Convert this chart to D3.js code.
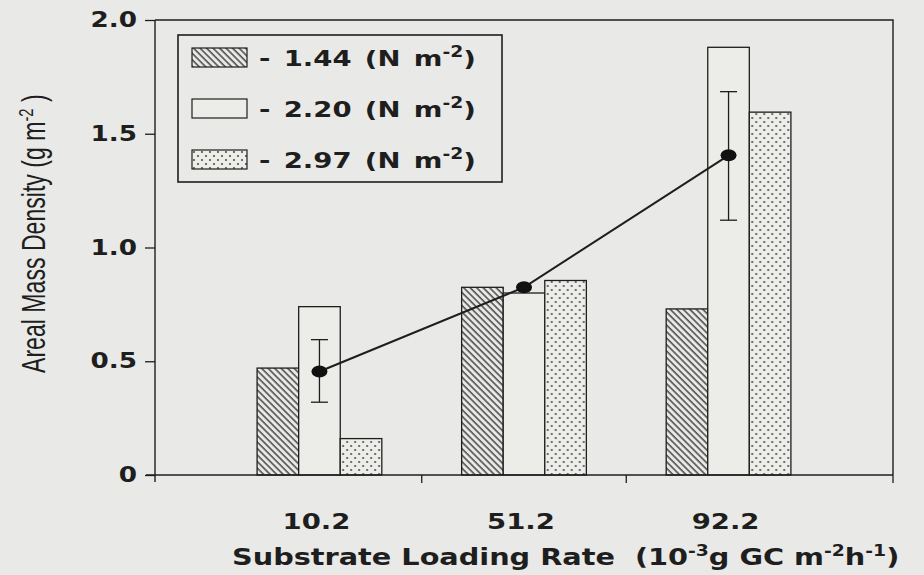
<!DOCTYPE html>
<html>
<head>
<meta charset="utf-8">
<script src="https://cdn.jsdelivr.net/npm/d3@7/dist/d3.min.js"></script>
<style>
  body { margin: 0; background: #e9e9e7; }
  text { fill: #1e1e1e; }
</style>
</head>
<body>
<div id="chart"></div>
<script>
// data
let categories = ["10.2", "51.2", "92.2"];
let seriesNames = ["1.44", "2.20", "2.97"];
let val144 = [0.47, 0.825, 0.73];
let val220 = [0.74, 0.80, 1.88];
let val297 = [0.16, 0.855, 1.595];
let meanVals = [0.455, 0.825, 1.405];
let errLow = [0.32, 0.825, 1.12];
let errHigh = [0.595, 0.825, 1.685];
let yTicks = [0, 0.5, 1.0, 1.5, 2.0];
let yTickLabels = ["0", "0.5", "1.0", "1.5", "2.0"];

let w = 924, h = 575;
let margin = { top: 20, right: 31, bottom: 100, left: 155 };
let ink = "#1e1e1e";
let boldFont = "'DejaVu Sans', sans-serif";
let stretch = 1.25;   // the scanned lettering is wider than DejaVu

let svg = d3.select("#chart").append("svg")
    .attr("width", w).attr("height", h);

svg.append("rect").attr("width", w).attr("height", h).attr("fill", "#e9e9e7");

// fill patterns
let defs = svg.append("defs");
defs.append("pattern")
    .attr("id", "hatch")
    .attr("patternUnits", "userSpaceOnUse")
    .attr("width", 4.6).attr("height", 10)
    .attr("patternTransform", "rotate(-45)")
    .append("line")
    .attr("x1", 1).attr("x2", 1).attr("y1", 0).attr("y2", 10)
    .attr("stroke", ink).attr("stroke-width", 1.2);

let dots = defs.append("pattern")
    .attr("id", "dots")
    .attr("patternUnits", "userSpaceOnUse")
    .attr("width", 8).attr("height", 8);
dots.append("rect").attr("width", 8).attr("height", 8).attr("fill", "#ecece9");
dots.selectAll("circle")
    .data([[2, 2], [6, 6]])
    .enter().append("circle")
    .attr("cx", d => d[0]).attr("cy", d => d[1]).attr("r", 0.9)
    .attr("fill", "#333");

let fills = ["url(#hatch)", "#ecece9", "url(#dots)"];
let seriesVals = [val144, val220, val297];

// scales
let x0 = d3.scaleBand()
    .domain(categories)
    .range([margin.left, w - margin.right])
    .paddingInner(0)
    .paddingOuter(0.304);

let x1 = d3.scaleBand()
    .domain(seriesNames)
    .range([0, x0.bandwidth()])
    .paddingInner(0)
    .paddingOuter(0.96);

let y = d3.scaleLinear()
    .domain([0, 2])
    .range([h - margin.bottom, margin.top]);

let plotL = margin.left, plotR = w - margin.right;
let plotT = margin.top, plotB = h - margin.bottom;

// frame (top and right)
svg.append("path")
    .attr("d", `M${plotL},${plotT}H${plotR}V${plotB}`)
    .attr("fill", "none").attr("stroke", ink).attr("stroke-width", 1.4);

// bars
let groups = svg.append("g").selectAll("g")
    .data(categories)
    .enter().append("g")
    .attr("transform", d => `translate(${x0(d)},0)`);

groups.selectAll("rect")
    .data((d, i) => seriesNames.map((s, j) => ({ s: s, v: seriesVals[j][i], j: j })))
    .enter().append("rect")
    .attr("x", d => x1(d.s))
    .attr("width", x1.bandwidth())
    .attr("y", d => y(d.v))
    .attr("height", d => y(0) - y(d.v))
    .attr("fill", d => fills[d.j])
    .attr("stroke", ink)
    .attr("stroke-width", 1.3);

// y axis
let yAxis = d3.axisLeft(y)
    .tickValues(yTicks)
    .tickFormat((d, i) => yTickLabels[i])
    .tickSize(10);

let gy = svg.append("g")
    .attr("transform", `translate(${plotL},0)`)
    .call(yAxis);
gy.select(".domain").remove();
gy.append("line")
    .attr("x1", 0).attr("x2", 0).attr("y1", plotT).attr("y2", plotB + 7)
    .attr("stroke", ink).attr("stroke-width", 1.4);
gy.selectAll(".tick line").attr("stroke", ink).attr("stroke-width", 1.3);
gy.selectAll(".tick text")
    .attr("x", 0)
    .attr("transform", `translate(-18,0) scale(${stretch},1)`)
    .attr("fill", ink)
    .style("font-family", boldFont)
    .style("font-weight", "bold")
    .style("font-size", "21px");

// x axis: tick marks between the groups and at the right end
let centers = categories.map(c => x0(c) + x0.bandwidth() / 2);
let xTickPos = [plotR].concat(d3.pairs(centers).map(p => (p[0] + p[1]) / 2));

svg.append("line")
    .attr("x1", plotL - 9).attr("x2", plotR)
    .attr("y1", plotB).attr("y2", plotB)
    .attr("stroke", ink).attr("stroke-width", 1.4);

svg.append("g").selectAll("line")
    .data(xTickPos)
    .enter().append("line")
    .attr("x1", d => d).attr("x2", d => d)
    .attr("y1", plotB).attr("y2", plotB + 8)
    .attr("stroke", ink).attr("stroke-width", 1.3);

svg.append("g").selectAll("text")
    .data(categories)
    .enter().append("text")
    .attr("transform", d => `translate(${x0(d) + x0.bandwidth() / 2 - 3},${plotB + 54}) scale(${stretch},1)`)
    .attr("text-anchor", "middle")
    .style("font-family", boldFont)
    .style("font-weight", "bold")
    .style("font-size", "22px")
    .text(d => d);

// mean line with error bars
let pts = categories.map((c, i) => ({
    x: x0(c) + x1(seriesNames[1]) + x1.bandwidth() / 2,
    m: meanVals[i], lo: errLow[i], hi: errHigh[i]
}));

svg.append("path")
    .datum(pts)
    .attr("d", d3.line().x(d => d.x).y(d => y(d.m)))
    .attr("fill", "none").attr("stroke", ink).attr("stroke-width", 2);

let eb = svg.append("g").selectAll("g")
    .data(pts.filter(d => d.hi - d.lo > 0.01))
    .enter().append("g");
eb.append("line")
    .attr("x1", d => d.x).attr("x2", d => d.x)
    .attr("y1", d => y(d.hi)).attr("y2", d => y(d.lo))
    .attr("stroke", ink).attr("stroke-width", 1.3);
eb.selectAll(".cap")
    .data(d => [{ x: d.x, v: d.hi }, { x: d.x, v: d.lo }])
    .enter().append("line")
    .attr("x1", d => d.x - 8.5).attr("x2", d => d.x + 8.5)
    .attr("y1", d => y(d.v)).attr("y2", d => y(d.v))
    .attr("stroke", ink).attr("stroke-width", 1.3);

svg.append("g").selectAll("ellipse")
    .data(pts)
    .enter().append("ellipse")
    .attr("cx", d => d.x).attr("cy", d => y(d.m))
    .attr("rx", 8).attr("ry", 6)
    .attr("fill", "#111");

// legend
let legend = svg.append("g").attr("transform", "translate(178,35)");
legend.append("rect")
    .attr("width", 324).attr("height", 147)
    .attr("fill", "#e9e9e7").attr("stroke", ink).attr("stroke-width", 1.6);

let lrow = legend.selectAll(".lrow")
    .data(seriesNames)
    .enter().append("g")
    .attr("transform", (d, i) => `translate(14,${13 + i * 51})`);
lrow.append("rect")
    .attr("width", 55).attr("height", 19)
    .attr("fill", (d, i) => fills[i])
    .attr("stroke", ink).attr("stroke-width", 1.2);
let ltext = lrow.append("text")
    .attr("transform", `translate(67,18) scale(${stretch},1)`)
    .style("font-family", boldFont)
    .style("font-weight", "bold")
    .style("font-size", "22px")
    .style("word-spacing", "3px");
ltext.append("tspan").text(d => `- ${d} (N m`);
ltext.append("tspan").attr("dy", -9).style("font-size", "15px").text("-2");
ltext.append("tspan").attr("dy", 9).text(")");

// axis titles
let yt = svg.append("text")
    .attr("transform", "translate(45,373) rotate(-90) scale(0.7,1)")
    .style("font-family", "'Liberation Sans', Arial, sans-serif")
    .style("font-size", "33px");
yt.append("tspan").text("Areal Mass Density (g m");
yt.append("tspan").attr("dy", -12).style("font-size", "21px").text("-2");
yt.append("tspan").attr("dy", 12).text(" )");

let xt = svg.append("text")
    .attr("transform", `translate(232,565) scale(${stretch},1)`)
    .style("font-family", boldFont)
    .style("font-weight", "bold")
    .style("font-size", "23px")
    .style("white-space", "pre");
xt.append("tspan").text("Substrate Loading Rate  (10");
xt.append("tspan").attr("dy", -9).style("font-size", "15px").text("-3");
xt.append("tspan").attr("dy", 9).text("g GC m");
xt.append("tspan").attr("dy", -9).style("font-size", "15px").text("-2");
xt.append("tspan").attr("dy", 9).text("h");
xt.append("tspan").attr("dy", -9).style("font-size", "15px").text("-1");
xt.append("tspan").attr("dy", 9).text(")");
</script>
</body>
</html>
